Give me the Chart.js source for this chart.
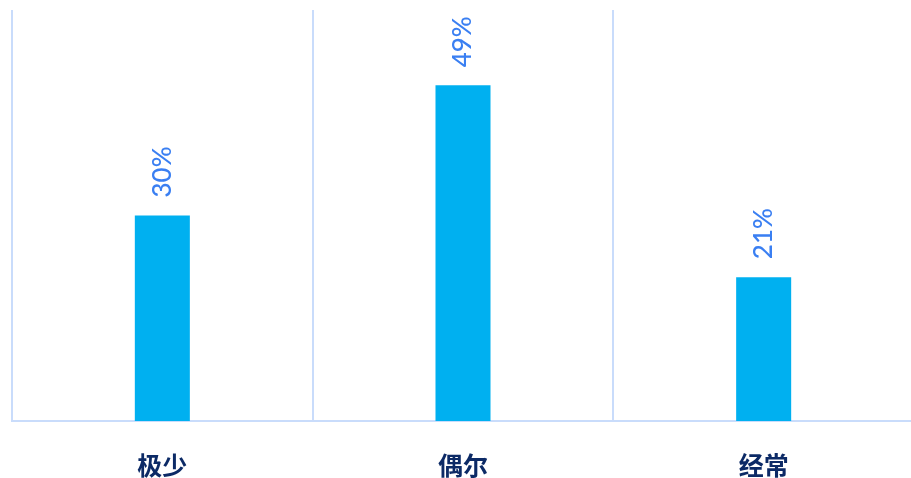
<!DOCTYPE html>
<html>
<head>
<meta charset="utf-8">
<script src="https://cdn.jsdelivr.net/npm/chart.js@4/dist/chart.umd.min.js"></script>
<style>
html,body{margin:0;padding:0;background:#fff;overflow:hidden;}
#wrap{width:914px;height:509px;position:relative;}
</style>
</head>
<body>
<div id="wrap"><canvas id="c"></canvas></div>
<script>
const categories = ["极少", "偶尔", "经常"];
const values = [30, 49, 21];
const valueLabels = ["30%", "49%", "21%"];

const rotatedLabels = {
  id: 'rotatedLabels',
  afterDatasetsDraw(chart) {
    const ctx = chart.ctx;
    const meta = chart.getDatasetMeta(0);
    ctx.save();
    ctx.fillStyle = '#3a7ff2';
    ctx.font = '500 26px Lato, "DejaVu Sans", sans-serif';
    ctx.textAlign = 'left';
    ctx.textBaseline = 'middle';
    meta.data.forEach((bar, i) => {
      ctx.save();
      ctx.translate(bar.x, bar.y - 18);
      ctx.rotate(-Math.PI / 2);
      ctx.fillText(valueLabels[i], 0, 0);
      ctx.restore();
    });
    ctx.restore();
  }
};

new Chart(document.getElementById('c'), {
  type: 'bar',
  data: {
    labels: categories,
    datasets: [{
      data: values,
      backgroundColor: '#00b0f0',
      barPercentage: 0.183,
      categoryPercentage: 1.0
    }]
  },
  options: {
    responsive: true,
    maintainAspectRatio: false,
    animation: false,
    layout: { padding: { left: 12, top: 10, right: 0, bottom: 0 } },
    plugins: { legend: { display: false }, tooltip: { enabled: false } },
    scales: {
      y: { display: false, min: 0, max: 60 },
      x: {
        grid: { color: '#c9dcfb', lineWidth: 2, drawTicks: false, offset: true },
        border: { color: '#c9dcfb', width: 2 },
        ticks: {
          color: '#0c2a66',
          padding: 29,
          font: { family: '"Noto Sans CJK SC", sans-serif', size: 25, weight: 'bold' }
        }
      }
    }
  },
  plugins: [rotatedLabels]
});
</script>
</body>
</html>
